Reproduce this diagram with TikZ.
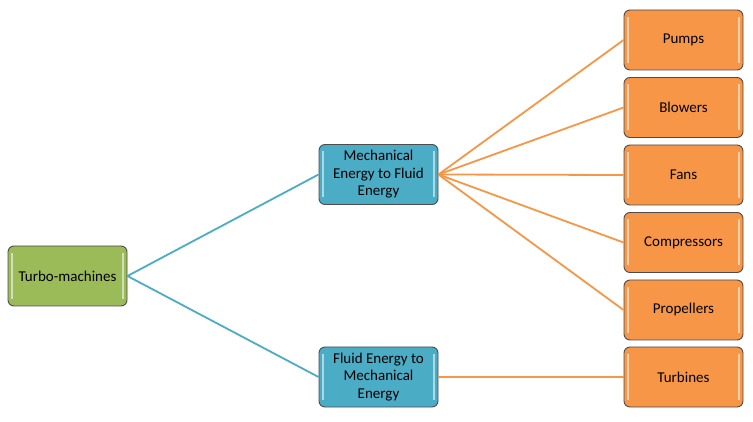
\documentclass[tikz,border=0pt]{standalone}
\usepackage{fontspec}
\setmainfont{Carlito}
\definecolor{leafgreen}{HTML}{9BBB59}
\definecolor{seablue}{HTML}{4BACC6}
\definecolor{tangerine}{HTML}{F79646}
\begin{document}
\begin{tikzpicture}[x=1pt, y=-1pt,
  every node/.style={font=\fontsize{15}{17.5}\selectfont},
  box/.style={draw=black!70, line width=0.9pt, rounded corners=6pt,
    minimum width=119pt, minimum height=60pt, align=center,
    inner sep=2pt,
    path picture={
      \draw[white, opacity=0.55, line width=2pt]
        ([xshift=4pt, yshift=-7pt]path picture bounding box.north west) --
        ([xshift=4pt, yshift=7pt]path picture bounding box.south west);
      \draw[white, opacity=0.55, line width=2pt]
        ([xshift=-4pt, yshift=-7pt]path picture bounding box.north east) --
        ([xshift=-4pt, yshift=7pt]path picture bounding box.south east);
    }},
  rootbox/.style={box, fill=leafgreen},
  midbox/.style={box, fill=seablue},
  leafbox/.style={box, fill=tangerine},
  blueline/.style={draw=seablue, line width=1.8pt},
  orangeline/.style={draw=tangerine, line width=1.8pt}]
  \useasboundingbox (0,0) rectangle (753,422);

  % Root
  \node[rootbox] (turbo) at (67.5, 276) {Turbo-machines};

  % Energy conversion branches
  \node[midbox] (mechfluid) at (378.5, 174.5) {Mechanical\\Energy to Fluid\\Energy};
  \node[midbox] (fluidmech) at (378.5, 377) {Fluid Energy to\\Mechanical\\Energy};

  % Machines driven by mechanical energy
  \foreach \name/\txt [count=\i from 0] in
      {pumps/Pumps, blowers/Blowers, fans/Fans, compressors/Compressors, propellers/Propellers} {
    \node[leafbox] (\name) at (683.5, 40+\i*67.5) {\txt};
    \draw[orangeline] (mechfluid.east) -- (\name.west);
  }

  % Machines driven by fluid energy
  \node[leafbox] (turbines) at (683.5, 377) {Turbines};
  \draw[orangeline] (fluidmech.east) -- (turbines.west);

  % Root links
  \draw[blueline] (turbo.east) -- (mechfluid.west);
  \draw[blueline] (turbo.east) -- (fluidmech.west);
\end{tikzpicture}
\end{document}
